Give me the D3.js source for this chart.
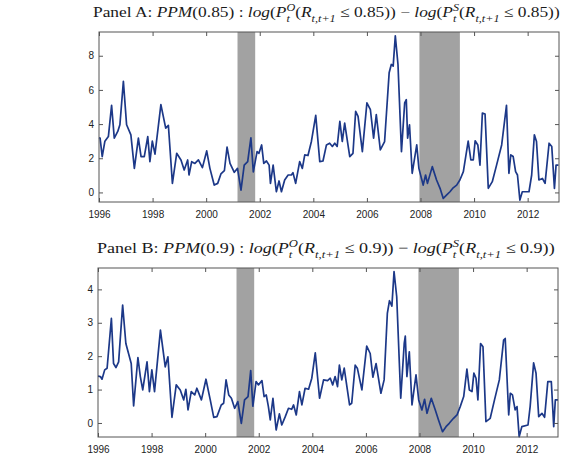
<!DOCTYPE html>
<html><head><meta charset="utf-8">
<script src="https://cdn.jsdelivr.net/npm/d3@7"></script>
<style>html,body{margin:0;padding:0;background:#fff;}</style>
</head><body>
<script>
// ---------- DATA ----------
const yearTicks = [1996,1998,2000,2002,2004,2006,2008,2010,2012];
const yTicksA = [0,2,4,6,8];
const yTicksB = [0,1,2,3,4];
const recessions = [[2001.17,2001.83],[2007.96,2009.47]];

const datesA = [1996.0,1996.04,1996.12,1996.22,1996.35,1996.47,1996.57,1996.70,1996.78,1996.91,1997.03,1997.19,1997.32,1997.47,1997.57,1997.69,1997.82,1997.90,1997.99,1998.09,1998.31,1998.49,1998.59,1998.74,1998.90,1999.06,1999.18,1999.31,1999.36,1999.46,1999.58,1999.71,1999.86,2000.02,2000.14,2000.30,2000.43,2000.55,2000.68,2000.78,2000.89,2001.05,2001.17,2001.30,2001.42,2001.55,2001.67,2001.76,2001.90,2001.97,2002.07,2002.15,2002.25,2002.35,2002.40,2002.50,2002.62,2002.72,2002.81,2002.93,2003.06,2003.18,2003.24,2003.34,2003.49,2003.59,2003.68,2003.80,2003.93,2004.09,2004.24,2004.36,2004.49,2004.61,2004.71,2004.80,2004.89,2004.99,2005.08,2005.17,2005.36,2005.48,2005.58,2005.67,2005.83,2006.00,2006.13,2006.25,2006.35,2006.50,2006.66,2006.83,2006.91,2006.98,2007.06,2007.16,2007.29,2007.41,2007.47,2007.52,2007.59,2007.69,2007.86,2007.94,2008.10,2008.19,2008.26,2008.44,2008.60,2008.73,2008.85,2008.97,2009.10,2009.22,2009.35,2009.47,2009.60,2009.78,2009.88,2009.97,2010.04,2010.14,2010.22,2010.31,2010.41,2010.53,2010.68,2010.84,2011.03,2011.21,2011.30,2011.37,2011.46,2011.55,2011.62,2011.71,2011.80,2012.05,2012.15,2012.25,2012.33,2012.42,2012.55,2012.65,2012.80,2012.90,2013.00,2013.06,2013.15];
const ppmA = [3.2,3.18,2.1,3.0,3.27,5.1,3.18,3.57,3.96,6.5,3.96,3.37,1.41,3.18,2.1,2.1,3.27,1.8,3.0,2.24,5.14,3.76,3.92,0.53,2.29,1.9,1.31,1.9,1.02,1.8,1.7,1.9,1.45,2.43,1.41,0.43,0.53,1.08,1.27,2.65,1.7,1.18,1.41,0.14,1.6,1.8,3.2,1.2,2.39,2.29,2.78,1.7,1.84,1.6,0.53,1.6,0.04,0.67,0.04,0.73,1.02,1.02,1.16,0.53,1.8,1.41,2.2,2.16,3.0,4.51,1.8,1.84,2.78,2.88,2.69,2.88,2.69,4.16,2.98,4.06,2.1,2.29,4.75,4.45,2.39,5.24,4.84,3.18,4.55,2.49,2.98,7.0,7.49,7.39,9.16,7.49,2.39,5.24,5.43,3.18,3.96,1.12,2.78,1.41,0.43,1.02,0.53,1.51,0.73,0.24,-0.35,-0.16,0.04,0.27,0.43,0.73,1.22,3.0,1.9,1.9,3.02,2.78,1.6,4.65,4.59,0.24,0.63,1.6,2.78,5.1,1.12,2.2,2.1,1.22,1.02,-0.45,0.04,0.04,1.02,3.37,2.98,0.73,0.82,0.53,2.88,2.69,0.24,1.6,1.6];

const datesB = [1996.0,1996.09,1996.15,1996.25,1996.34,1996.50,1996.58,1996.67,1996.77,1996.92,1997.04,1997.14,1997.24,1997.33,1997.49,1997.58,1997.67,1997.83,1997.92,1998.01,1998.11,1998.33,1998.51,1998.61,1998.76,1998.92,1999.07,1999.20,1999.28,1999.36,1999.48,1999.61,1999.69,1999.86,2000.03,2000.19,2000.32,2000.44,2000.60,2000.69,2000.78,2000.88,2000.98,2001.10,2001.22,2001.35,2001.47,2001.60,2001.70,2001.78,2001.90,2001.99,2002.12,2002.20,2002.28,2002.36,2002.43,2002.53,2002.65,2002.77,2002.86,2002.99,2003.11,2003.23,2003.30,2003.40,2003.52,2003.61,2003.73,2003.86,2003.98,2004.11,2004.27,2004.42,2004.57,2004.67,2004.76,2004.85,2004.94,2005.01,2005.10,2005.19,2005.39,2005.47,2005.60,2005.68,2005.85,2006.03,2006.16,2006.26,2006.38,2006.56,2006.68,2006.80,2006.88,2006.97,2007.05,2007.15,2007.30,2007.43,2007.47,2007.53,2007.62,2007.72,2007.87,2007.97,2008.09,2008.19,2008.28,2008.44,2008.59,2008.71,2008.86,2008.99,2009.11,2009.27,2009.40,2009.52,2009.65,2009.77,2009.86,2009.96,2010.03,2010.11,2010.18,2010.28,2010.37,2010.48,2010.64,2010.80,2010.98,2011.14,2011.20,2011.33,2011.39,2011.47,2011.57,2011.64,2011.72,2011.82,2012.05,2012.13,2012.26,2012.35,2012.45,2012.57,2012.67,2012.79,2012.92,2013.01,2013.07,2013.17];
const ppmB = [1.4,1.39,1.31,1.59,1.64,3.13,1.78,1.66,1.83,3.53,2.38,2.08,1.78,0.51,1.96,1.39,0.99,1.83,0.94,1.59,0.94,2.78,1.68,1.98,0.17,1.14,0.99,0.69,1.01,0.39,0.94,0.84,1.04,0.69,1.31,0.69,0.17,0.19,0.54,0.59,1.29,0.84,0.74,0.44,0.64,-0.01,0.69,0.79,1.57,0.5,1.24,1.14,1.27,0.79,0.84,0.49,0.09,0.74,-0.21,0.27,-0.06,0.19,0.44,0.41,0.54,0.24,0.94,0.54,1.04,1.01,1.34,2.1,0.74,1.29,1.27,1.34,1.14,1.39,1.09,1.73,1.29,1.64,0.54,0.59,1.73,1.64,0.99,2.3,2.08,1.37,1.78,0.89,1.29,3.28,3.66,3.5,4.53,3.78,0.74,2.38,2.6,1.39,2.13,0.54,1.44,0.69,0.39,0.71,0.29,0.74,0.39,0.09,-0.26,-0.11,-0.01,0.14,0.24,0.49,0.79,1.61,0.99,0.94,1.49,1.34,0.69,2.38,2.28,0.04,0.14,0.69,1.29,2.48,2.53,0.24,0.89,0.84,0.39,0.49,-0.41,-0.11,-0.06,0.49,1.8,1.49,0.19,0.29,0.17,1.24,1.24,-0.11,0.69,0.69];

const thresholdA = "0.85";
const thresholdB = "0.9";

// ---------- RENDER ----------
const W = 570, H = 465;
const svg = d3.select("body").append("svg").attr("width", W).attr("height", H)
  .style("display","block").style("background","#fff");

function titleSegments(panel, th){
  return [
    ["Panel "+panel+": ","r"],["PPM","i"],["("+th+") : ","r"],["log","i"],["(","r"],
    ["P","i"],["O","i","sup"],["t","i","stack"],["(","r"],["R","i"],["t,t+1","i","sub"],
    [" ≤ "+th+")) − ","r"],["log","i"],["(","r"],["P","i"],["S","i","sup"],["t","i","stack"],
    ["(","r"],["R","i"],["t,t+1","i","sub"],[" ≤ "+th+"))","r"]
  ];
}

function drawTitle(segs, x0, x1, baseline){
  const F = 15;
  const g = svg.append("g");
  const t = g.append("text").attr("x", 0).attr("y", 0)
    .style("font-family","'Liberation Serif','DejaVu Serif',serif").style("font-size",F+"px").attr("fill","#1a1a1a");
  let state = "base", supW = 0, extra = 0;
  segs.forEach(s=>{
    const [txt, sty, pos] = s;
    const ts = t.append("tspan").text(txt).style("font-style", sty==="i"?"italic":"normal");
    if (pos==="sup"){
      ts.style("font-size",(0.7*F)+"px").attr("dy", -0.42*F);
      supW = ts.node().getComputedTextLength();
      state = "sup";
    } else if (pos==="stack"){
      ts.style("font-size",(0.7*F)+"px").attr("dx", -supW).attr("dy", 0.72*F);
      extra = Math.max(0, supW - ts.node().getComputedTextLength());
      state = "sub";
    } else if (pos==="sub"){
      ts.style("font-size",(0.7*F)+"px").attr("dy", 0.3*F);
      extra = 0; state = "sub";
    } else {
      if (state==="sub"){ ts.attr("dy", -0.3*F).attr("dx", extra); extra = 0; }
      else if (state==="sup"){ ts.attr("dy", 0.42*F); }
      state = "base";
    }
  });
  const w = t.node().getBBox().width;
  g.attr("transform", `translate(${x0},${baseline}) scale(${(x1-x0)/w},1)`);
}

function panel(cfg){
  const x = d3.scaleLinear().domain([1996, 2013.17]).range([cfg.left, cfg.right]);
  const y = d3.scaleLinear().domain(cfg.yDomain).range([cfg.bottom, cfg.top]);
  const g = svg.append("g");
  g.selectAll("rect.rec").data(recessions).enter().append("rect")
    .attr("x", d=>x(d[0])).attr("width", d=>x(d[1])-x(d[0]))
    .attr("y", cfg.top).attr("height", cfg.bottom-cfg.top).attr("fill","#a2a2a2");
  const pts = cfg.dates.map((d,i)=>[d, cfg.vals[i]]);
  g.append("path").datum(pts)
    .attr("d", d3.line().x(d=>x(d[0])).y(d=>y(d[1])))
    .attr("fill","none").attr("stroke","#1c3888").attr("stroke-width",1.7).attr("stroke-linejoin","round");
  const tickStyle = sel => { sel.select(".domain").remove(); sel.selectAll(".tick line").attr("stroke","#555"); sel.selectAll("text").style("font-family","'Liberation Sans',Arial,sans-serif").style("font-size","10px").attr("fill","#222"); };
  g.append("g").attr("transform",`translate(0,${cfg.bottom})`)
    .call(d3.axisBottom(x).tickValues(yearTicks).tickFormat(d3.format("d")).tickSizeInner(-4).tickPadding(9))
    .call(tickStyle);
  g.append("g").attr("transform",`translate(0,${cfg.top})`)
    .call(d3.axisTop(x).tickValues(yearTicks).tickFormat("").tickSizeInner(-4))
    .call(tickStyle);
  g.append("g").attr("transform",`translate(${cfg.left},0)`)
    .call(d3.axisLeft(y).tickValues(cfg.yTicks).tickFormat(d3.format("d")).tickSizeInner(-4).tickPadding(5))
    .call(tickStyle);
  g.append("g").attr("transform",`translate(${cfg.right},0)`)
    .call(d3.axisRight(y).tickValues(cfg.yTicks).tickFormat("").tickSizeInner(-4))
    .call(tickStyle);
  g.append("rect").attr("x",cfg.left).attr("y",cfg.top).attr("width",cfg.right-cfg.left).attr("height",cfg.bottom-cfg.top)
    .attr("fill","none").attr("stroke","#555").attr("stroke-width",1);
}

panel({left:99,right:559,top:32,bottom:202,yDomain:[-0.56,9.39],yTicks:yTicksA,dates:datesA,vals:ppmA});
panel({left:98,right:558,top:268,bottom:437,yDomain:[-0.42,4.64],yTicks:yTicksB,dates:datesB,vals:ppmB});

drawTitle(titleSegments("A", thresholdA), 93, 560, 17);
drawTitle(titleSegments("B", thresholdB), 97, 555, 253);
</script>
</body></html>
